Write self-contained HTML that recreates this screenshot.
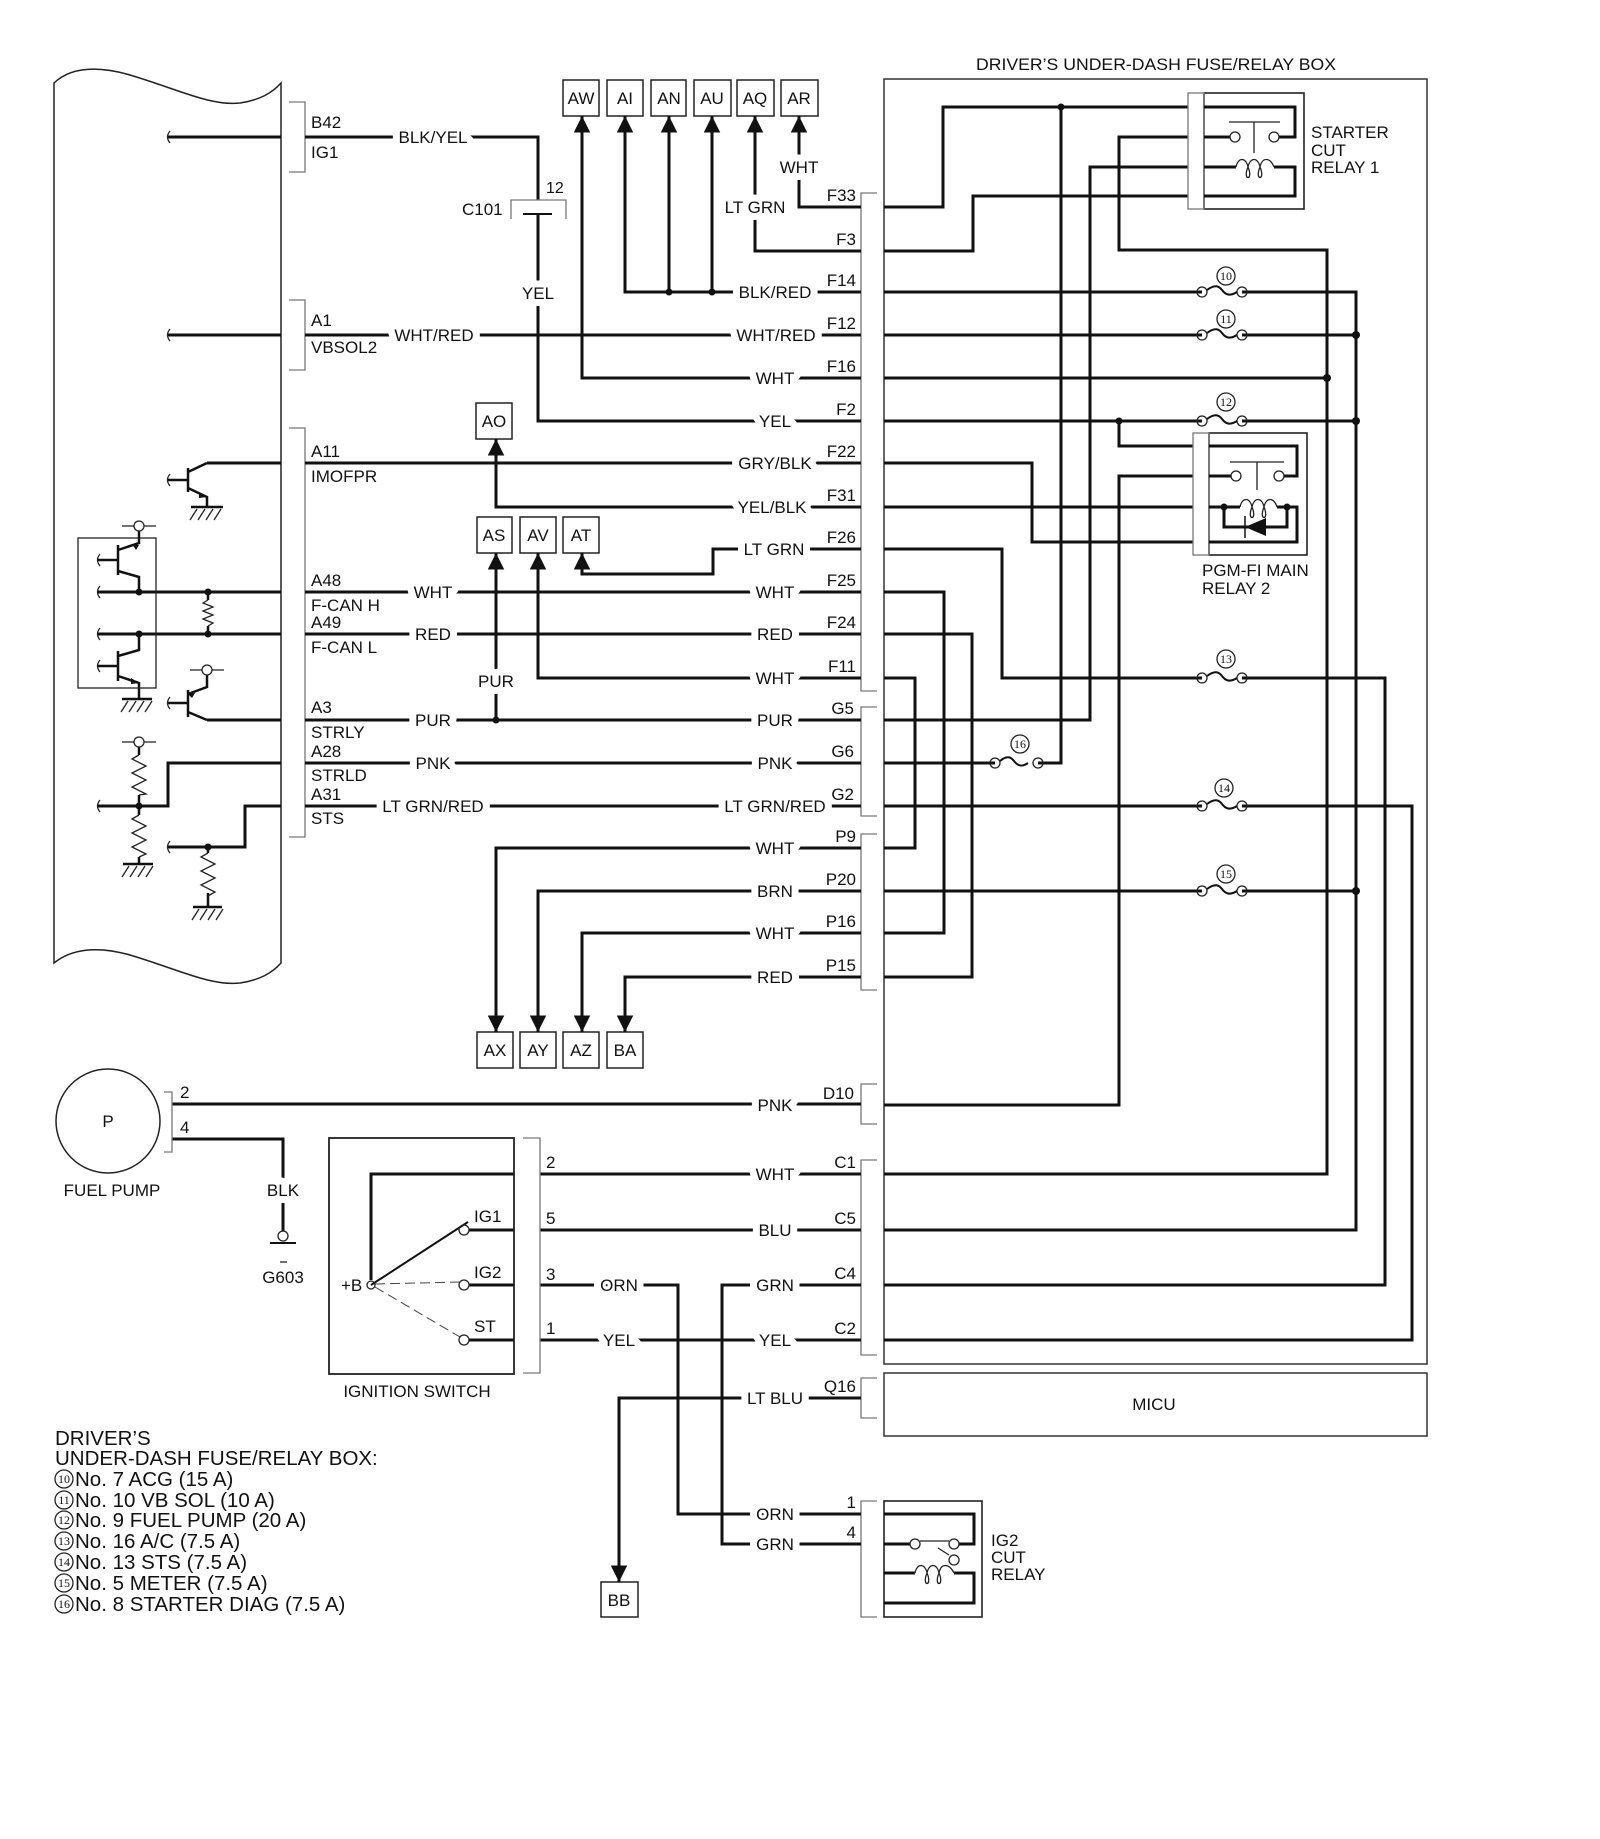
<!DOCTYPE html>
<html><head><meta charset="utf-8">
<style>
html,body{margin:0;padding:0;background:#fff;}
svg{display:block;}
text{font-family:"Liberation Sans",Arial,sans-serif;font-size:17px;fill:#111;}
.h{stroke:#fff;stroke-width:14px;paint-order:stroke;stroke-linejoin:round;}
.w{fill:none;stroke:#111;stroke-width:3;}
.t{fill:none;stroke:#222;stroke-width:1.3;}
.g{fill:none;stroke:#777;stroke-width:1.3;}
.m{text-anchor:middle;}
.e{text-anchor:end;}
.leg text, text.leg{font-size:20.5px;}
text.cn{font-family:"Liberation Serif",serif;font-size:12px;text-anchor:middle;}
</style></head>
<body>
<svg width="1600" height="1839" viewBox="0 0 1600 1839" xmlns="http://www.w3.org/2000/svg">
<defs>
<marker id="a" viewBox="0 0 10 10" refX="10" refY="5" markerWidth="5.5" markerHeight="5.5" orient="auto"><path d="M0,0 L10,5 L0,10 Z" fill="#111"/></marker>
</defs>

<!-- ECU body -->
<path class="t" d="M54,83 C70,68 95,65 130,75 C180,90 210,106 240,103 C260,100 272,93 281,83 V963 C272,973 260,980 240,983 C210,986 180,970 130,955 C95,945 70,950 54,963 Z" style="stroke-width:1.5"/>

<!-- left brackets -->
<path class="g" d="M289,102 H305 V172 H289 M289,300 H305 V370 H289 M289,428 H305 V837 H289"/>

<!-- Title -->
<text x="976" y="70" textLength="360" lengthAdjust="spacingAndGlyphs">DRIVER’S UNDER-DASH FUSE/RELAY BOX</text>
<!-- fuse box & MICU -->
<path d="M884,79 H1427 V1364 H884 Z" fill="none" stroke="#333" stroke-width="1.5"/>
<path d="M884,1373 H1427 V1436 H884 Z" fill="none" stroke="#333" stroke-width="1.5"/>
<text x="1154" y="1410" class="m">MICU</text>

<!-- connector brackets on box -->
<path class="g" d="M877,193 H861 V691 H877 M877,707 H861 V816 H877 M877,834 H861 V990 H877 M877,1084 H861 V1124 H877 M877,1160 H861 V1355 H877 M877,1378 H861 V1418 H877 M877,1501 H861 V1617 H877"/>

<!-- connector boxes top -->
<g class="t" style="stroke-width:1.5">
<rect x="563" y="80" width="36" height="36"/><rect x="607" y="80" width="36" height="36"/><rect x="651" y="80" width="35" height="36"/><rect x="694" y="80" width="37" height="36"/><rect x="737" y="80" width="37" height="36"/><rect x="781" y="80" width="37" height="36"/>
<rect x="476" y="403" width="36" height="36"/>
<rect x="477" y="517" width="35" height="36"/><rect x="520" y="517" width="36" height="36"/><rect x="563" y="517" width="36" height="36"/>
<rect x="477" y="1032" width="36" height="36"/><rect x="520" y="1032" width="36" height="36"/><rect x="563" y="1032" width="36" height="36"/><rect x="607" y="1032" width="36" height="36"/>
<rect x="601" y="1582" width="37" height="35"/>
</g>
<g class="m">
<text x="581" y="104">AW</text><text x="625" y="104">AI</text><text x="669" y="104">AN</text><text x="712" y="104">AU</text><text x="755" y="104">AQ</text><text x="799" y="104">AR</text>
<text x="494" y="427">AO</text>
<text x="494" y="541">AS</text><text x="538" y="541">AV</text><text x="581" y="541">AT</text>
<text x="495" y="1056">AX</text><text x="538" y="1056">AY</text><text x="581" y="1056">AZ</text><text x="625" y="1056">BA</text>
<text x="619" y="1606">BB</text>
</g>

<!-- wires, left/mid -->
<g class="w">
<path d="M168,137 H281 M305,137 H538 V200"/>
<path d="M538,214 V421 H861"/>
<path d="M168,335 H281 M305,335 H861"/>
<path d="M861,207 H799 V116" marker-end="url(#a)"/>
<path d="M861,251 H755 V116" marker-end="url(#a)"/>
<path d="M861,292 H625 V116" marker-end="url(#a)"/>
<path d="M669,292 V116" marker-end="url(#a)"/>
<path d="M712,292 V116" marker-end="url(#a)"/>
<path d="M861,378 H582 V116" marker-end="url(#a)"/>
<path d="M207,463 H281 M305,463 H861"/>
<path d="M861,507 H496 V439" marker-end="url(#a)"/>
<path d="M861,549 H713 V574 H582 V553" marker-end="url(#a)"/>
<path d="M98,592 H281 M305,592 H861"/>
<path d="M98,634 H281 M305,634 H861"/>
<path d="M861,678 H538 V553" marker-end="url(#a)"/>
<path d="M207,720 H281 M305,720 H861"/>
<path d="M496,720 V553" marker-end="url(#a)"/>
<path d="M281,763 H168 V806 H98 M305,763 H861"/>
<path d="M281,806 H245 V847 H168 M305,806 H861"/>
<path d="M861,848 H496 V1032" marker-end="url(#a)"/>
<path d="M861,891 H538 V1032" marker-end="url(#a)"/>
<path d="M861,933 H582 V1032" marker-end="url(#a)"/>
<path d="M861,977 H625 V1032" marker-end="url(#a)"/>
<path d="M172,1104 H861"/>
<path d="M172,1139 H283 V1231"/>
<path d="M540,1174 H861 M514,1174 H371 V1280"/>
<path d="M540,1230 H861 M469,1230 H514"/>
<path d="M540,1285 H678 V1514 H861"/>
<path d="M861,1285 H722 V1544 H861"/>
<path d="M540,1340 H861 M469,1285 H514 M469,1340 H514"/>
<path d="M861,1398 H619 V1582" marker-end="url(#a)"/>
</g>
<!-- C101 -->
<path class="g" d="M511,219 V200 H566 V219"/>
<path d="M523,214 H552" stroke="#111" stroke-width="2"/>
<text x="462" y="215">C101</text><text x="546" y="193" style="font-size:16px">12</text>

<!-- dots left/mid -->
<g fill="#111">
<circle cx="669" cy="292" r="3.5"/><circle cx="712" cy="292" r="3.5"/><circle cx="496" cy="720" r="3.5"/>
<circle cx="139" cy="592" r="3.5"/><circle cx="208" cy="592" r="3.5"/><circle cx="139" cy="634" r="3.5"/><circle cx="208" cy="634" r="3.5"/>
<circle cx="139" cy="806" r="3.5"/><circle cx="208" cy="847" r="3.5"/>
</g>

<!-- wire color labels (halo) -->
<g class="h">
<text x="433" y="143" class="m">BLK/YEL</text>
<text x="538" y="299" class="m">YEL</text>
<text x="434" y="341" class="m">WHT/RED</text>
<text x="799" y="173" class="m">WHT</text>
<text x="755" y="213" class="m">LT GRN</text>
<text x="775" y="298" class="m">BLK/RED</text>
<text x="776" y="341" class="m">WHT/RED</text>
<text x="775" y="384" class="m">WHT</text>
<text x="775" y="427" class="m">YEL</text>
<text x="775" y="469" class="m">GRY/BLK</text>
<text x="772" y="513" class="m">YEL/BLK</text>
<text x="774" y="555" class="m">LT GRN</text>
<text x="433" y="598" class="m">WHT</text><text x="775" y="598" class="m">WHT</text>
<text x="433" y="640" class="m">RED</text><text x="775" y="640" class="m">RED</text>
<text x="775" y="684" class="m">WHT</text>
<text x="496" y="687" class="m">PUR</text>
<text x="433" y="726" class="m">PUR</text><text x="775" y="726" class="m">PUR</text>
<text x="433" y="769" class="m">PNK</text><text x="775" y="769" class="m">PNK</text>
<text x="433" y="812" class="m">LT GRN/RED</text><text x="775" y="812" class="m">LT GRN/RED</text>
<text x="775" y="854" class="m">WHT</text>
<text x="775" y="897" class="m">BRN</text>
<text x="775" y="939" class="m">WHT</text>
<text x="775" y="983" class="m">RED</text>
<text x="775" y="1111" class="m">PNK</text>
<text x="283" y="1196" class="m">BLK</text>
<text x="775" y="1180" class="m">WHT</text>
<text x="775" y="1236" class="m">BLU</text>
<text x="619" y="1291" class="m">ORN</text><text x="775" y="1291" class="m">GRN</text>
<text x="619" y="1346" class="m">YEL</text><text x="775" y="1346" class="m">YEL</text>
<text x="775" y="1404" class="m">LT BLU</text>
<text x="775" y="1520" class="m">ORN</text>
<text x="775" y="1550" class="m">GRN</text>
</g>

<!-- pin labels -->
<g class="e">
<text x="856" y="201">F33</text><text x="856" y="245">F3</text><text x="856" y="286">F14</text><text x="856" y="329">F12</text><text x="856" y="372">F16</text><text x="856" y="415">F2</text><text x="856" y="457">F22</text><text x="856" y="501">F31</text><text x="856" y="543">F26</text><text x="856" y="586">F25</text><text x="856" y="628">F24</text><text x="856" y="672">F11</text>
<text x="854" y="714">G5</text><text x="854" y="757">G6</text><text x="854" y="800">G2</text>
<text x="856" y="842">P9</text><text x="856" y="885">P20</text><text x="856" y="927">P16</text><text x="856" y="971">P15</text>
<text x="854" y="1099">D10</text>
<text x="856" y="1168">C1</text><text x="856" y="1224">C5</text><text x="856" y="1279">C4</text><text x="856" y="1334">C2</text>
<text x="856" y="1392">Q16</text>
<text x="856" y="1508">1</text><text x="856" y="1538">4</text>
</g>
<g>
<text x="311" y="128">B42</text><text x="311" y="158">IG1</text>
<text x="311" y="326">A1</text><text x="311" y="353">VBSOL2</text>
<text x="311" y="457">A11</text><text x="311" y="482">IMOFPR</text>
<text x="311" y="586">A48</text><text x="311" y="611">F-CAN H</text><text x="311" y="628">A49</text><text x="311" y="653">F-CAN L</text>
<text x="311" y="713">A3</text><text x="311" y="738">STRLY</text><text x="311" y="757">A28</text><text x="311" y="781">STRLD</text><text x="311" y="800">A31</text><text x="311" y="824">STS</text>
</g>

<!-- left tildes -->
<path class="t" d="M170,131 q-5,6 0,12 M170,329 q-5,6 0,12 M170,474 q-5,6 0,12 M100,586 q-5,6 0,12 M100,628 q-5,6 0,12 M100,554 q-5,6 0,12 M100,660 q-5,6 0,12 M170,697 q-5,6 0,12 M100,800 q-5,6 0,12 M170,841 q-5,6 0,12"/>

<!-- transistors etc -->
<g class="w" style="stroke-width:2.5">
<path d="M168,480 H188 M188,468 V492 M188,472 L207,463 M188,488 L207,497 V507"/>
<path d="M98,560 H118 M118,545 V575 M118,571 L139,577 V592 M118,550 L139,543 V531"/>
<path d="M98,666 H118 M118,651 V681 M118,656 L139,650 V634 M118,676 L139,683 V699"/>
<path d="M168,703 H188 M188,690 V717 M188,694 L207,687 V675 M188,712 L207,720"/>
<path d="M208,592 V600 M208,626 V634 M139,747 V755 M139,795 V806 M139,806 V815 M139,857 V864 M208,847 V853 M208,893 V907"/>
</g>
<rect x="78" y="538" width="78" height="150" class="t"/>
<g class="t">
<circle cx="139" cy="526" r="5" fill="#fff"/><path d="M122,526 H134 M144,526 H156"/>
<circle cx="207" cy="670" r="5" fill="#fff"/><path d="M190,670 H202 M212,670 H224"/>
<circle cx="139" cy="742" r="5" fill="#fff"/><path d="M122,742 H134 M144,742 H156"/>
<path d="M208,600 l-5,3 l10,4 l-10,4 l10,4 l-10,4 l10,4 l-5,3"/>
<path d="M139,755 l-7,4 l14,7 l-14,7 l14,7 l-14,7 l14,7 l-7,1"/>
<path d="M139,815 l-7,4 l14,7 l-14,7 l14,7 l-14,7 l14,7 l-7,3"/>
<path d="M208,853 l-7,4 l14,7 l-14,7 l14,7 l-14,7 l14,7 l-7,4"/>
</g>
<g stroke="#111" stroke-width="2.5">
<path d="M191,507 H223 M122,699 H152 M123,864 H153 M193,907 H222"/>
</g>
<g class="t">
<path d="M197,509 l-7,11 M205,509 l-7,11 M213,509 l-7,11 M221,509 l-7,11"/>
<path d="M128,701 l-7,11 M136,701 l-7,11 M144,701 l-7,11 M152,701 l-7,11"/>
<path d="M129,866 l-7,11 M137,866 l-7,11 M145,866 l-7,11 M153,866 l-7,11"/>
<path d="M199,909 l-7,11 M207,909 l-7,11 M215,909 l-7,11 M223,909 l-7,11"/>
</g>
<g fill="#111"><path d="M139,545 l-7,-1 l4,6 z"/><path d="M207,497 l-8,-5 l0,6 z"/><path d="M139,683 l-8,-5 l0,6 z"/><path d="M188,694 l7,-1 l-3,5z"/></g>

<!-- fuel pump -->
<circle cx="108" cy="1121" r="52" class="t" style="stroke-width:1.5"/>
<text x="108" y="1127" class="m">P</text>
<path class="g" d="M164,1092 H172 V1152 H164"/>
<text x="180" y="1098">2</text><text x="180" y="1133">4</text>
<text x="112" y="1196" class="m">FUEL PUMP</text>
<circle cx="283" cy="1236" r="5" class="t" fill="#fff"/>
<path d="M270,1243 H296" stroke="#111" stroke-width="2"/><path d="M280,1262 H287" class="t"/>
<text x="283" y="1283" class="m">G603</text>

<!-- ignition switch -->
<rect x="329" y="1138" width="185" height="236" fill="none" stroke="#222" stroke-width="1.8"/>
<path class="g" d="M523,1138 H540 V1373 H523"/>
<text x="546" y="1168">2</text><text x="546" y="1224">5</text><text x="546" y="1280">3</text><text x="546" y="1334">1</text>
<path d="M371,1285 L468,1222" stroke="#111" stroke-width="2"/>
<path d="M375,1284 L460,1282 M375,1287 L460,1337" stroke="#444" stroke-width="1" stroke-dasharray="10,5"/>
<g class="t" fill="#fff"><circle cx="371" cy="1285" r="4"/><circle cx="464" cy="1230" r="5"/><circle cx="464" cy="1285" r="5"/><circle cx="464" cy="1340" r="5"/></g>
<text x="474" y="1222">IG1</text><text x="474" y="1278">IG2</text><text x="474" y="1332">ST</text><text x="341" y="1291">+B</text>
<text x="417" y="1397" class="m">IGNITION SWITCH</text>

<!-- right side wires -->
<g class="w">
<path d="M884,207 H943 V107 H1188"/>
<path d="M1061,107 V763 H1038 M995,763 H884"/>
<path d="M884,251 H973 V196 H1188"/>
<path d="M1188,137 H1119 V250 H1327 V1174 H884"/>
<path d="M1188,167 H1090 V720 H884"/>
<path d="M884,292 H1202 M1242,292 H1356 V1230 H884"/>
<path d="M884,335 H1202 M1242,335 H1356"/>
<path d="M884,378 H1327"/>
<path d="M884,421 H1202 M1242,421 H1356 M1119,421 V446 H1193"/>
<path d="M884,463 H1032 V542 H1193"/>
<path d="M884,507 H1193"/>
<path d="M884,549 H1002 V678 H1202 M1242,678 H1385 V1285 H884"/>
<path d="M884,592 H944 V933 H884"/>
<path d="M884,634 H972 V977 H884"/>
<path d="M884,678 H915 V848 H884"/>
<path d="M884,806 H1202 M1242,806 H1412 V1340 H884"/>
<path d="M884,891 H1202 M1242,891 H1356"/>
<path d="M884,1105 H1119 V476 H1193"/>
</g>
<g fill="#111">
<circle cx="1061" cy="107" r="3.5"/><circle cx="1327" cy="378" r="4"/><circle cx="1356" cy="335" r="4"/><circle cx="1356" cy="421" r="4"/><circle cx="1356" cy="891" r="4"/><circle cx="1119" cy="421" r="3.5"/>
</g>

<!-- fuses -->
<g>
<g class="t" fill="#fff">
<circle cx="1202" cy="292" r="5"/><circle cx="1242" cy="292" r="5"/>
<circle cx="1202" cy="335" r="5"/><circle cx="1242" cy="335" r="5"/>
<circle cx="1202" cy="421" r="5"/><circle cx="1242" cy="421" r="5"/>
<circle cx="1202" cy="678" r="5"/><circle cx="1242" cy="678" r="5"/>
<circle cx="1202" cy="806" r="5"/><circle cx="1242" cy="806" r="5"/>
<circle cx="1202" cy="891" r="5"/><circle cx="1242" cy="891" r="5"/>
<circle cx="995" cy="763" r="5"/><circle cx="1038" cy="763" r="5"/>
</g>
<g fill="none" stroke="#111" stroke-width="2">
<path d="M1207,290 c8,-6 12,-4 15,0 c3,4 7,7 15,2"/>
<path d="M1207,333 c8,-6 12,-4 15,0 c3,4 7,7 15,2"/>
<path d="M1207,419 c8,-6 12,-4 15,0 c3,4 7,7 15,2"/>
<path d="M1207,676 c8,-6 12,-4 15,0 c3,4 7,7 15,2"/>
<path d="M1207,804 c8,-6 12,-4 15,0 c3,4 7,7 15,2"/>
<path d="M1207,889 c8,-6 12,-4 15,0 c3,4 7,7 15,2"/>
<path d="M1000,761 c7,-6 11,-4 14,0 c3,4 7,7 14,2"/>
</g>
<g class="t">
<circle cx="1226" cy="276" r="9"/><circle cx="1226" cy="319" r="9"/><circle cx="1226" cy="402" r="9"/><circle cx="1226" cy="659" r="9"/><circle cx="1224" cy="788" r="9"/><circle cx="1226" cy="874" r="9"/><circle cx="1020" cy="744" r="9"/>
</g>
<text x="1226" y="280" class="cn">10</text><text x="1226" y="323" class="cn">11</text><text x="1226" y="406" class="cn">12</text><text x="1226" y="663" class="cn">13</text><text x="1224" y="792" class="cn">14</text><text x="1226" y="878" class="cn">15</text><text x="1020" y="748" class="cn">16</text>
</g>

<!-- starter cut relay 1 -->
<rect x="1204" y="93" width="100" height="116" class="t" style="stroke-width:1.6"/>
<rect x="1188" y="93" width="16" height="116" class="g"/>
<g class="w">
<path d="M1204,107 H1295 V137 H1279 M1204,137 H1230 M1204,167 H1236 M1274,167 H1295 V196 H1204"/>
</g>
<g class="t"><circle cx="1235" cy="137" r="5" fill="#fff"/><circle cx="1274" cy="137" r="5" fill="#fff"/><path d="M1229,122 H1280 M1254,122 V153"/>
<path d="M1236,167 c2,-10 10,-10 12,0 c-6,14 6,14 0,0 c2,-10 10,-10 12,0 c-6,14 6,14 0,0 c2,-10 10,-10 14,0"/></g>
<text x="1311" y="138">STARTER</text><text x="1311" y="156">CUT</text><text x="1311" y="173">RELAY 1</text>

<!-- PGM-FI main relay 2 -->
<rect x="1209" y="433" width="98" height="122" class="t" style="stroke-width:1.6"/>
<rect x="1193" y="433" width="16" height="122" class="g"/>
<g class="w">
<path d="M1209,446 H1297 V476 H1284 M1209,476 H1231 M1209,507 H1240 M1277,507 H1297 V542 H1209 M1224,507 V527 H1287 V507"/>
</g>
<g fill="#111"><circle cx="1224" cy="507" r="3.5"/><circle cx="1287" cy="507" r="3.5"/><path d="M1245,527 L1266,518 V536 Z"/></g>
<path d="M1245,516 V538" stroke="#111" stroke-width="1.5"/>
<g class="t"><circle cx="1236" cy="476" r="5" fill="#fff"/><circle cx="1279" cy="476" r="5" fill="#fff"/><path d="M1230,462 H1284 M1257,462 V490"/>
<path d="M1240,507 c2,-10 10,-10 12,0 c-6,14 6,14 0,0 c2,-10 10,-10 12,0 c-6,14 6,14 0,0 c2,-10 10,-10 13,0"/></g>
<text x="1202" y="576">PGM-FI MAIN</text><text x="1202" y="594">RELAY 2</text>

<!-- IG2 cut relay -->
<rect x="884" y="1501" width="98" height="116" class="t" style="stroke-width:1.6"/>
<g class="w">
<path d="M884,1514 H974 V1544 H959 M884,1544 H910 M884,1573 H915 M954,1573 H974 V1603 H884"/>
</g>
<g class="t"><circle cx="915" cy="1544" r="5" fill="#fff"/><circle cx="954" cy="1544" r="5" fill="#fff"/><circle cx="954" cy="1560" r="5" fill="#fff"/><path d="M920,1541 H949 M938,1548 L949,1555"/>
<path d="M915,1573 c2,-10 10,-10 12,0 c-6,14 6,14 0,0 c2,-10 10,-10 12,0 c-6,14 6,14 0,0 c2,-10 10,-10 15,0"/></g>
<text x="991" y="1546">IG2</text><text x="991" y="1563">CUT</text><text x="991" y="1580">RELAY</text>

<!-- legend -->
<g class="leg">
<text x="55" y="1445">DRIVER’S</text>
<text x="55" y="1465">UNDER-DASH FUSE/RELAY BOX:</text>
</g>
<g>
<g class="t"><circle cx="64" cy="1479" r="9"/><circle cx="64" cy="1500" r="9"/><circle cx="64" cy="1520" r="9"/><circle cx="64" cy="1541" r="9"/><circle cx="64" cy="1562" r="9"/><circle cx="64" cy="1583" r="9"/><circle cx="64" cy="1604" r="9"/></g>
<text x="64" y="1483" class="cn">10</text><text x="64" y="1504" class="cn">11</text><text x="64" y="1524" class="cn">12</text><text x="64" y="1545" class="cn">13</text><text x="64" y="1566" class="cn">14</text><text x="64" y="1587" class="cn">15</text><text x="64" y="1608" class="cn">16</text>
<g class="leg">
<text x="75" y="1486">No. 7 ACG (15 A)</text>
<text x="75" y="1507">No. 10 VB SOL (10 A)</text>
<text x="75" y="1527">No. 9 FUEL PUMP (20 A)</text>
<text x="75" y="1548">No. 16 A/C (7.5 A)</text>
<text x="75" y="1569">No. 13 STS (7.5 A)</text>
<text x="75" y="1590">No. 5 METER (7.5 A)</text>
<text x="75" y="1611">No. 8 STARTER DIAG (7.5 A)</text>
</g>
</g>
</svg>
</body></html>
